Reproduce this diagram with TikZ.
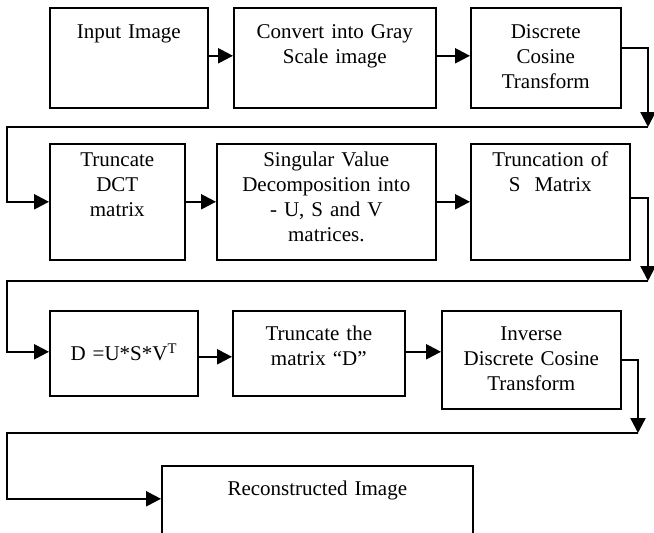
\documentclass[tikz,border=0pt]{standalone}
\usepackage{fontspec}
\setmainfont{Liberation Serif}
\usetikzlibrary{arrows.meta,positioning,calc}
\tikzset{
  blk/.style={rectangle,draw=black,line width=1.6pt,anchor=north west,
              align=center,inner xsep=0pt,inner ysep=0pt,
              font=\fontsize{21}{25}\selectfont},
  arr/.style={-{Triangle[length=15pt,width=15pt]},line width=2.3pt},
}

\begin{document}
\begin{tikzpicture}[x=1pt,y=-1pt]
  \useasboundingbox (0,0) rectangle (654,533);
  % first row
  \node[blk,text width=158pt,text height=31pt,text depth=69pt] (inimg) at (49,7) {Input Image};
  \node[blk,text width=202pt,text height=31pt,text depth=69pt] (gray) at (233,7) {Convert into Gray\\Scale image};
  \node[blk,text width=150pt,text height=31pt,text depth=69pt] (dct) at (470,7) {Discrete\\Cosine\\Transform};
  % second row
  \node[blk,text width=135pt,text height=23pt,text depth=93pt] (trdct) at (49,143) {Truncate\\DCT\\matrix};
  \node[blk,text width=219pt,text height=23pt,text depth=93pt] (svd) at (216,143) {Singular Value\\Decomposition into\\- U, S and V\\matrices.};
  \node[blk,text width=159pt,text height=23pt,text depth=93pt] (trs) at (470,143) {Truncation of\\S\ \ Matrix};
  % third row
  \node[blk,text width=148pt,text height=50pt,text depth=35pt] (dmat) at (49,310) {D =U*S*V\textsuperscript{T}};
  \node[blk,text width=172pt,text height=30pt,text depth=55pt] (trd) at (232,310) {Truncate the\\matrix “D”};
  \node[blk,text width=179pt,text height=30pt,text depth=68pt] (idct) at (441,310) {Inverse\\Discrete Cosine\\Transform};
  % last row
  \node[blk,text width=311pt,text height=30pt,text depth=60pt] (recon) at (161,465) {Reconstructed Image};

  \coordinate (c1) at (648,127);
  \coordinate (c1l) at (7,127);
  \coordinate (c2) at (648,281);
  \coordinate (c2l) at (7,281);
  \coordinate (c3) at (638,433);
  \coordinate (c3l) at (7,433);

  \draw[arr] ([yshift=2pt]inimg.east) -- ([yshift=2pt]inimg.east -| gray.west);
  \draw[arr] ([yshift=2pt]gray.east) -- ([yshift=2pt]gray.east -| dct.west);
  \draw[arr] ([yshift=10pt]dct.east) -| (c1);
  \draw[arr] (c1) -- (c1l) |- (trdct.west);

  \draw[arr] (trdct.east) -- (svd.west);
  \draw[arr] (svd.east) -- (trs.west);
  \draw[arr] ([yshift=4pt]trs.east) -| (c2);
  \draw[arr] (c2) -- (c2l) |- ([yshift=1.5pt]dmat.west);

  \draw[arr] ([yshift=-3.5pt]dmat.east) -- ([yshift=-3.5pt]dmat.east -| trd.west);
  \draw[arr] ([yshift=1.5pt]trd.east) -- ([yshift=1.5pt]trd.east -| idct.west);
  \draw[arr] (idct.east) -| (c3);
  \draw[arr] (c3) -- (c3l) |- ([yshift=12pt]recon.west);
\end{tikzpicture}
\end{document}
